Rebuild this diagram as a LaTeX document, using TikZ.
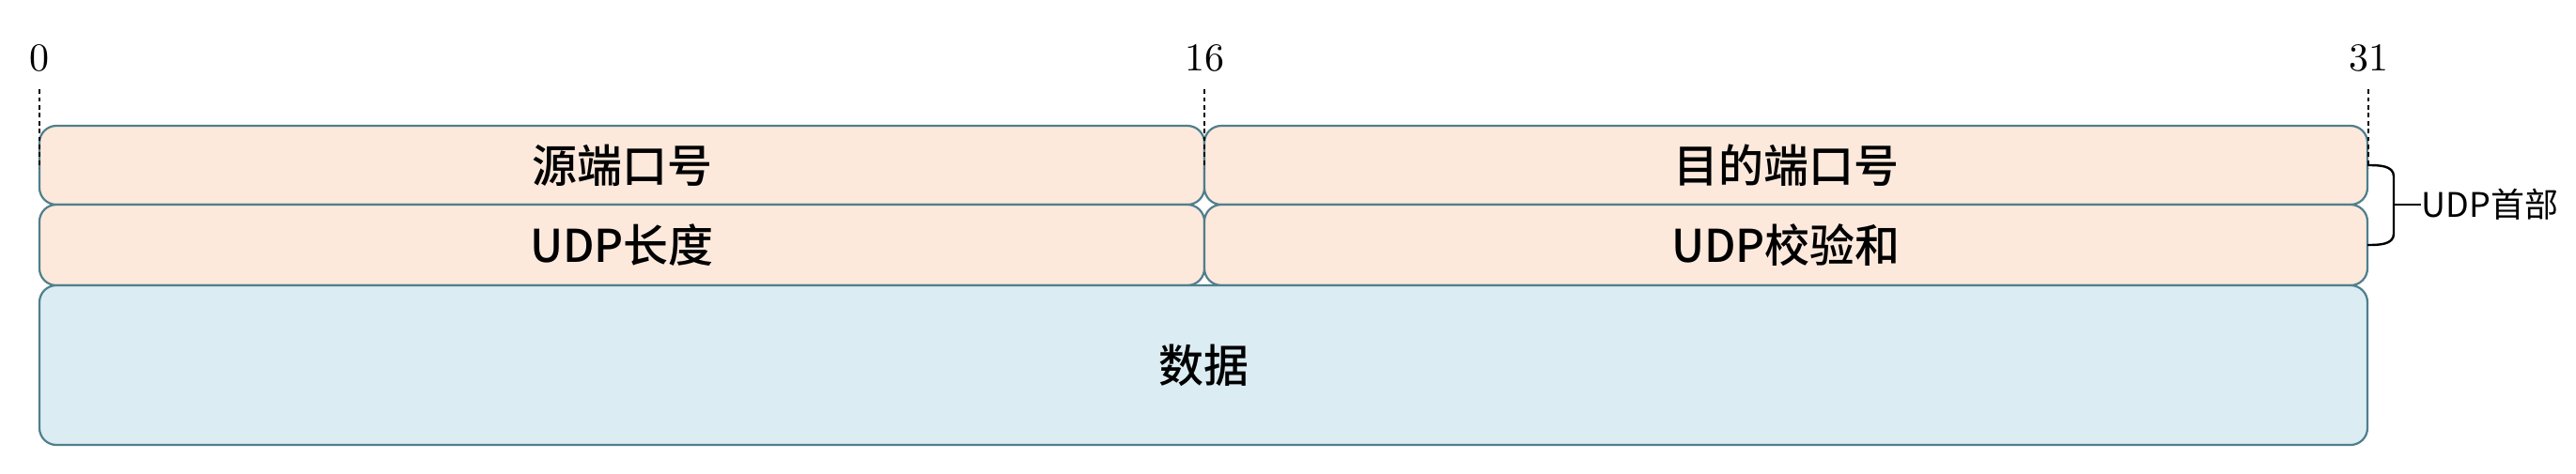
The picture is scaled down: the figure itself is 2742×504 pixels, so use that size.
\documentclass[tikz,border=0pt]{standalone}
\usepackage{fontspec}
\newfontfamily\cjk{Noto Sans CJK SC}[BoldFont={Noto Sans CJK SC Medium}]
\usetikzlibrary{positioning}
\definecolor{edgeteal}{HTML}{4F7F8C}
\definecolor{hdrfill}{HTML}{FCE9DC}
\definecolor{datafill}{HTML}{DBECF3}
\tikzset{field/.style={draw=edgeteal, line width=0.55pt, rounded corners=4.5pt, fill=hdrfill,
  inner sep=0pt, outer sep=0pt, font=\cjk\bfseries\fontsize{12}{14}\selectfont},
%data part of the datagram
datafield/.style={field, fill=datafill, minimum width=619.5pt, minimum height=42.5pt},
bitlbl/.style={inner sep=0pt, font=\fontsize{10.5}{12}\selectfont},
guide/.style={line width=0.4pt, dash pattern=on 1.2pt off 0.9pt},
brc/.style={line width=0.6pt, black}}

\begin{document}
\begin{tikzpicture}[x=0.25pt, y=-0.25pt]
\useasboundingbox (0,0) rectangle (2742,504);
% header rows
\node[field, minimum width=310pt, minimum height=21pt] (src) at (662,176) {源端口号};
\node[field, minimum width=309.5pt, minimum height=21pt, right=0pt of src] (dst) {目的端口号};
\node[field, minimum width=310pt, minimum height=21.5pt, below=0pt of src] (len) {UDP长度};
\node[field, minimum width=309.5pt, minimum height=21.5pt, below=0pt of dst] (chk) {UDP校验和};
\node[datafield, anchor=north west] (data) at (len.south west) {数据};

%bit positions
\foreach \x/\bit in {42/0,1282/16,2521/31}{
  \node[bitlbl] (b\bit) at (\x,62) {\bit};
  \draw[guide] ([yshift=-4.5pt]b\bit.south) -- ++(0,-21pt);
}

% header brace
\node[right=14.25pt of dst.south east, inner sep=0pt, anchor=west,
  font=\cjk\fontsize{9}{11}\selectfont] (hdr) {UDP首部};
\draw[brc] (dst.east) to[out=0,in=90] ([xshift=7pt,yshift=-3pt]dst.east)
  -- ([xshift=7pt,yshift=3pt]chk.east) to[out=-90,in=0] (chk.east);
\draw[brc] ([xshift=7pt]dst.south east) -- (hdr.west);

\end{tikzpicture}
\end{document}
